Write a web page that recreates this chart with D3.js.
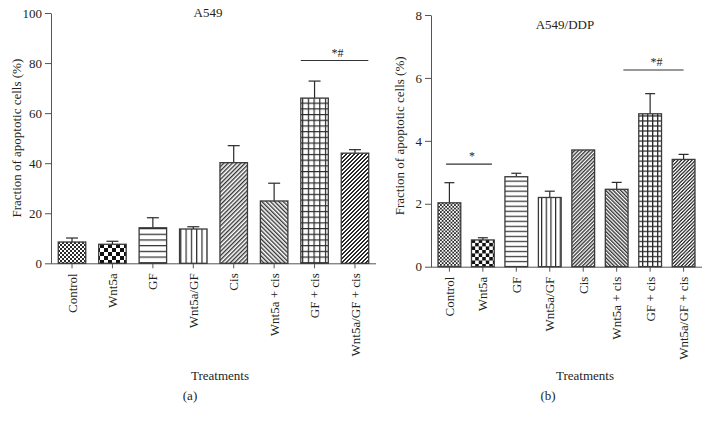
<!DOCTYPE html>
<html><head><meta charset="utf-8">
<script src="https://cdn.jsdelivr.net/npm/d3@7"></script>
<style>
body{margin:0;background:#fff;}
svg{display:block;font-family:"Liberation Serif","DejaVu Serif",serif;}
svg text{font-family:"Liberation Serif","DejaVu Serif",serif;}
</style></head>
<body>
<svg id="chart" width="710" height="422"></svg>
<script>
const categories = ["Control","Wnt5a","GF","Wnt5a/GF","Cis","Wnt5a + cis","GF + cis","Wnt5a/GF + cis"];
const patterns = ["checkFine","checkCoarse","hlines","vlines","diagUp","diagDown","grid","stairs"];

const a549Values = [8.5, 7.6, 14.2, 13.7, 40.2, 24.9, 66.0, 44.0];
const a549Errors = [1.6, 1.2, 4.0, 0.9, 6.8, 7.1, 6.8, 1.4];
const a549Ticks = [0, 20, 40, 60, 80, 100];
const a549Sig = [{from: 5.66, to: 7.33, y: 81, label: "*#"}];

const ddpValues = [2.03, 0.85, 2.86, 2.2, 3.71, 2.46, 4.86, 3.41];
const ddpErrors = [0.64, 0.07, 0.11, 0.2, 0, 0.22, 0.64, 0.16];
const ddpTicks = [0, 2, 4, 6, 8];
const ddpSig = [{from: -0.1, to: 1.27, y: 3.26, label: "*"},
                {from: 5.2, to: 7.0, y: 6.25, label: "*#"}];

const svg = d3.select("#chart");
const defs = svg.append("defs");
const ink = "#2a2a2a";
const txt = "#231f20";

function makePatterns(prefix, s) {
  let p = defs.append("pattern").attr("id", prefix+"checkFine").attr("patternUnits","userSpaceOnUse").attr("width",4*s).attr("height",4*s);
  p.append("rect").attr("width",4*s).attr("height",4*s).attr("fill","#fff");
  p.append("rect").attr("width",2*s).attr("height",2*s).attr("fill",ink);
  p.append("rect").attr("x",2*s).attr("y",2*s).attr("width",2*s).attr("height",2*s).attr("fill",ink);
  p = defs.append("pattern").attr("id", prefix+"checkCoarse").attr("patternUnits","userSpaceOnUse").attr("width",8*s).attr("height",8*s);
  p.append("rect").attr("width",8*s).attr("height",8*s).attr("fill","#fff");
  p.append("rect").attr("width",4*s).attr("height",4*s).attr("fill","#111");
  p.append("rect").attr("x",4*s).attr("y",4*s).attr("width",4*s).attr("height",4*s).attr("fill","#111");
  p = defs.append("pattern").attr("id", prefix+"hlines").attr("patternUnits","userSpaceOnUse").attr("width",10).attr("height",5.7*s);
  p.append("rect").attr("width",10).attr("height",5.7*s).attr("fill","#fff");
  p.append("line").attr("x1",0).attr("x2",10).attr("y1",0.6).attr("y2",0.6).attr("stroke",ink).attr("stroke-width",1.2);
  p = defs.append("pattern").attr("id", prefix+"vlines").attr("patternUnits","userSpaceOnUse").attr("width",5.3*s).attr("height",10);
  p.append("rect").attr("width",5.3*s).attr("height",10).attr("fill","#fff");
  p.append("line").attr("y1",0).attr("y2",10).attr("x1",0.6).attr("x2",0.6).attr("stroke",ink).attr("stroke-width",1.2);
  p = defs.append("pattern").attr("id", prefix+"diagUp").attr("patternUnits","userSpaceOnUse").attr("width",3*s).attr("height",10).attr("patternTransform","rotate(45)");
  p.append("rect").attr("width",3*s).attr("height",10).attr("fill","#fff");
  p.append("line").attr("y1",0).attr("y2",10).attr("x1",0.7).attr("x2",0.7).attr("stroke",ink).attr("stroke-width",1.3);
  p = defs.append("pattern").attr("id", prefix+"diagDown").attr("patternUnits","userSpaceOnUse").attr("width",3*s).attr("height",10).attr("patternTransform","rotate(-45)");
  p.append("rect").attr("width",3*s).attr("height",10).attr("fill","#fff");
  p.append("line").attr("y1",0).attr("y2",10).attr("x1",0.7).attr("x2",0.7).attr("stroke",ink).attr("stroke-width",1.3);
  p = defs.append("pattern").attr("id", prefix+"grid").attr("patternUnits","userSpaceOnUse").attr("width",5.7*s).attr("height",5.7*s);
  p.append("rect").attr("width",5.7*s).attr("height",5.7*s).attr("fill","#fff");
  p.append("path").attr("d",`M0,0.6H${5.7*s}M0.6,0V${5.7*s}`).attr("stroke",ink).attr("stroke-width",1.2);
  p = defs.append("pattern").attr("id", prefix+"stairs").attr("patternUnits","userSpaceOnUse").attr("width",4*s).attr("height",4*s);
  p.append("rect").attr("width",4*s).attr("height",4*s).attr("fill","#fff");
  const u = s;
  p.append("path").attr("fill",ink)
    .attr("d",`M0,${3*u}h${2*u}v${u}h${-2*u}z M${u},${2*u}h${2*u}v${u}h${-2*u}z M${2*u},${u}h${2*u}v${u}h${-2*u}z M${3*u},0h${u}v${u}h${-u}z M0,0h${u}v${u}h${-u}z`);
}
makePatterns("L-", 1);
makePatterns("R-", 0.88);

function panel(cfg) {
  const g = svg.append("g");
  const x = d3.scaleBand().domain(categories).range([cfg.x0, cfg.x1]).paddingInner(0.32).paddingOuter(cfg.po);
  const y = d3.scaleLinear().domain([0, cfg.ticks[cfg.ticks.length-1]]).range([cfg.yb, cfg.yt]);
  const idx = i => x(categories[0]) + x.bandwidth()/2 + i * x.step();

  const ya = g.append("g").attr("transform",`translate(${cfg.x0},0)`)
    .call(d3.axisLeft(y).tickValues(cfg.ticks).tickSize(6).tickPadding(3).tickSizeOuter(0));
  ya.attr("font-family",null).attr("font-size",null);
  ya.select(".domain").attr("stroke","#555");
  ya.selectAll(".tick line").attr("stroke","#555");
  ya.selectAll("text").style("font-size","13px").attr("fill",txt);

  const xa = g.append("g").attr("transform",`translate(0,${cfg.yb})`)
    .call(d3.axisBottom(x).tickSize(5).tickSizeOuter(0));
  xa.attr("font-family",null).attr("font-size",null);
  xa.select(".domain").attr("stroke","#555").attr("d",`M${cfg.x0},0.5H${cfg.x1}`);
  xa.selectAll(".tick line").attr("stroke","#555");
  xa.selectAll("text").style("font-size","13px").attr("fill",txt)
    .attr("transform","rotate(-90)").attr("text-anchor","end").attr("dy","0.35em").attr("x",-10).attr("y",0);

  const eb = g.append("g");
  categories.forEach((c,i) => {
    if (cfg.errors[i] <= 0) return;
    const cx = x(c) + x.bandwidth()/2;
    const top = y(cfg.values[i]+cfg.errors[i]);
    eb.append("line").attr("x1",cx).attr("x2",cx).attr("y1",y(cfg.values[i])).attr("y2",top).attr("stroke",ink).attr("stroke-width",1.2);
    eb.append("line").attr("x1",cx-cfg.cap/2).attr("x2",cx+cfg.cap/2).attr("y1",top).attr("y2",top).attr("stroke",ink).attr("stroke-width",1.2);
  });

  g.append("g").selectAll("rect").data(categories).join("rect")
    .attr("x", d => x(d)).attr("width", x.bandwidth())
    .attr("y", (d,i) => y(cfg.values[i])).attr("height", (d,i) => y(0) - y(cfg.values[i]))
    .attr("fill", (d,i) => `url(#${cfg.prefix}${patterns[i]})`)
    .attr("stroke","#3a3a3a").attr("stroke-width",1.3);

  cfg.sig.forEach(s => {
    const x1 = idx(s.from), x2 = idx(s.to);
    g.append("line").attr("x1",x1).attr("x2",x2).attr("y1",y(s.y)).attr("y2",y(s.y)).attr("stroke","#333").attr("stroke-width",1.1);
    g.append("text").attr("x",(x1+x2)/2 + 3).attr("y",y(s.y)-4).attr("text-anchor","middle")
      .style("font-size","12px").attr("fill",txt).text(s.label);
  });

  g.append("text").attr("x",cfg.titleX).attr("y",cfg.titleY).attr("text-anchor","middle").style("font-size","13px").attr("fill",txt).text(cfg.title);
  g.append("text").attr("transform",`translate(${cfg.ylabX},${(cfg.yb+cfg.yt)/2+(cfg.ylabDY||0)}) rotate(-90)`).attr("text-anchor","middle")
    .style("font-size","13px").attr("fill",txt).text("Fraction of apoptotic cells (%)");
  g.append("text").attr("x",cfg.treatX).attr("y",380).attr("text-anchor","middle").style("font-size","13px").attr("fill",txt).text("Treatments");
  g.append("text").attr("x",cfg.subX).attr("y",400).attr("text-anchor","middle").style("font-size","13px").attr("fill",txt).text(cfg.sub);
}

panel({prefix:"L-", values:a549Values, errors:a549Errors, ticks:a549Ticks, sig:a549Sig,
  x0:51, x1:376, po:0.18, yb:263.3, yt:13, cap:12,
  title:"A549", titleX:208, titleY:17, ylabX:21, ylabDY:0, treatX:220, subX:190, sub:"(a)"});
panel({prefix:"R-", values:ddpValues, errors:ddpErrors, ticks:ddpTicks, sig:ddpSig,
  x0:431, x1:702, po:0.21, yb:266.7, yt:15, cap:10,
  title:"A549/DDP", titleX:565, titleY:29, ylabX:404, ylabDY:-5, treatX:585, subX:548, sub:"(b)"});
</script>
</body></html>
